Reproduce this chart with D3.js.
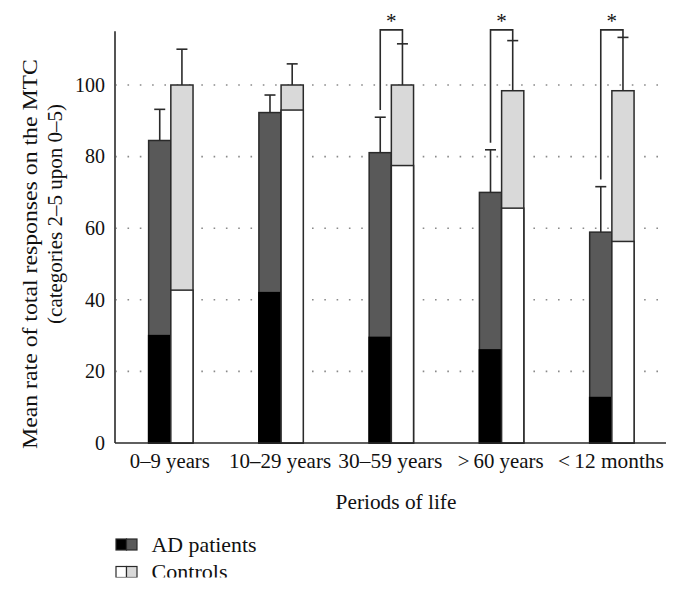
<!DOCTYPE html>
<html><head><meta charset="utf-8">
<script src="https://cdn.jsdelivr.net/npm/d3@7"></script>
<style>html,body{margin:0;padding:0;background:#fff;}svg{display:block;}</style>
</head><body>
<script>
const categories = ["0\u20139 years", "10\u201329 years", "30\u201359 years", ">\u200960 years", "<\u200912 months"];
const adLow = [30, 42, 29.5, 26, 12.7];
const adTotal = [84.5, 92.3, 81.1, 70, 58.9];
const adSD = [8.7, 4.9, 9.9, 11.9, 12.7];
const ctrlLow = [42.7, 93, 77.5, 65.6, 56.3];
const ctrlTotal = [100, 100, 100, 98.4, 98.4];
const ctrlSD = [10, 5.9, 11.5, 14, 14.9];
const significant = [false, false, true, true, true];
const yTicks = [0, 20, 40, 60, 80, 100];
const seriesNames = ["AD patients", "Controls"];

const W = 680, H = 592;
const svg = d3.select("body").append("svg").attr("width", W).attr("height", H);
const font = "'Liberation Serif', 'Times New Roman', serif";
const ink = "#2a2a2a";
const dark = "#595959", light = "#d9d9d9";

// place text at (px,py) with rotation, stretched horizontally to a target width
function fitText(parent, str, px, py, rot, target, anchor) {
  const g = parent.append("g").attr("transform", `translate(${px},${py}) rotate(${rot})`);
  const t = g.append("text").attr("font-family", font).attr("font-size", 20).attr("fill", "#111")
    .attr("text-anchor", anchor || "middle").text(str);
  const w = t.node().getComputedTextLength();
  t.attr("transform", `scale(${target / w},1)`);
  return t;
}

const y = d3.scaleLinear().domain([0, 115]).range([443, 31.3]);
const x = d3.scaleBand().domain(categories).range([115.7, 667]).paddingInner(0).paddingOuter(0);
const sub = d3.scaleBand().domain(seriesNames).range([x.bandwidth()/2 - 22.2, x.bandwidth()/2 + 22.2]);

// gridlines
svg.append("g").selectAll("line").data(yTicks.filter(d => d > 0)).join("line")
  .attr("x1", 116).attr("x2", 666).attr("y1", d => y(d)).attr("y2", d => y(d))
  .attr("stroke", "#8a8a8a").attr("stroke-width", 1.6).attr("stroke-dasharray", "1.6,10.7")
  .attr("stroke-dashoffset", -11.5);

// y tick labels
svg.append("g").selectAll("text").data(yTicks).join("text")
  .attr("x", 105).attr("y", d => y(d)).attr("dy", "0.34em")
  .attr("text-anchor", "end").attr("font-family", font).attr("font-size", 20).attr("fill", "#111")
  .text(d => d);

const groups = svg.append("g").selectAll("g").data(categories).join("g")
  .attr("transform", d => `translate(${x(d)},0)`);

// AD bars
groups.append("rect")
  .attr("x", sub("AD patients")).attr("width", sub.bandwidth())
  .attr("y", (d,i) => y(adTotal[i])).attr("height", (d,i) => y(0) - y(adTotal[i]))
  .attr("fill", dark).attr("stroke", ink).attr("stroke-width", 1.5);
groups.append("rect")
  .attr("x", sub("AD patients")).attr("width", sub.bandwidth())
  .attr("y", (d,i) => y(adLow[i])).attr("height", (d,i) => y(0) - y(adLow[i]))
  .attr("fill", "#000").attr("stroke", "#000").attr("stroke-width", 1.5);
// Control bars
groups.append("rect")
  .attr("x", sub("Controls")).attr("width", sub.bandwidth())
  .attr("y", (d,i) => y(ctrlTotal[i])).attr("height", (d,i) => y(0) - y(ctrlTotal[i]))
  .attr("fill", light).attr("stroke", ink).attr("stroke-width", 1.5);
groups.append("rect")
  .attr("x", sub("Controls")).attr("width", sub.bandwidth())
  .attr("y", (d,i) => y(ctrlLow[i])).attr("height", (d,i) => y(0) - y(ctrlLow[i]))
  .attr("fill", "#fff").attr("stroke", ink).attr("stroke-width", 1.5);

// error bars
function errBar(tot, sd, name) {
  const cx = sub(name) + sub.bandwidth()/2;
  groups.append("line").attr("x1", cx).attr("x2", cx)
    .attr("y1", (d,i) => y(tot[i])).attr("y2", (d,i) => y(tot[i] + sd[i]))
    .attr("stroke", ink).attr("stroke-width", 1.6);
  groups.append("line").attr("x1", cx - 5.5).attr("x2", cx + 5.5)
    .attr("y1", (d,i) => y(tot[i] + sd[i])).attr("y2", (d,i) => y(tot[i] + sd[i]))
    .attr("stroke", ink).attr("stroke-width", 1.6);
}
errBar(adTotal, adSD, "AD patients");
errBar(ctrlTotal, ctrlSD, "Controls");

// significance brackets
const bracketVal = 115.4;
const sig = groups.filter((d,i) => significant[i]);
sig.append("path")
  .attr("d", (d) => {
    const i = categories.indexOf(d);
    const xa = sub("AD patients") + sub.bandwidth()/2, xc = sub("Controls") + sub.bandwidth()/2;
    return `M${xa},${y(adTotal[i] + adSD[i] + 2)}V${y(bracketVal)}H${xc}V${y(ctrlTotal[i] + ctrlSD[i])}`;
  })
  .attr("fill", "none").attr("stroke", ink).attr("stroke-width", 1.6);
sig.append("text")
  .attr("x", x.bandwidth()/2).attr("y", y(bracketVal) - 1.5)
  .attr("text-anchor", "middle").attr("font-family", font).attr("font-size", 21).attr("fill", "#111")
  .text("*");

// axes lines
svg.append("line").attr("x1", 115).attr("x2", 115).attr("y1", y(115)).attr("y2", y(0))
  .attr("stroke", ink).attr("stroke-width", 1.6);
svg.append("line").attr("x1", 115).attr("x2", 666).attr("y1", y(0)).attr("y2", y(0))
  .attr("stroke", ink).attr("stroke-width", 1.6);

// x labels
const xLabelWidths = [80, 102, 104, 86, 106];
categories.forEach((c, i) => fitText(svg, c, x(c) + x.bandwidth()/2 - 1, 468, 0, xLabelWidths[i]));

fitText(svg, "Periods of life", 396, 509, 0, 121);

// y title
fitText(svg, "Mean rate of total responses on the MTC", 37, 254, -90, 390);
fitText(svg, "(categories 2\u20135 upon 0\u20135)", 62, 214, -90, 220);

// legend
const legendFills = [["#000", dark], ["#fff", light]];
const legendWidths = [105, 76];
const lg = svg.append("g").selectAll("g").data(seriesNames).join("g")
  .attr("transform", (d,i) => `translate(116,${539 + i*27.5})`);
lg.append("rect").attr("x", 0).attr("y", 0).attr("width", 10.5).attr("height", 11)
  .attr("fill", (d,i) => legendFills[i][0]).attr("stroke", ink).attr("stroke-width", 1.2);
lg.append("rect").attr("x", 10.5).attr("y", 0).attr("width", 10.5).attr("height", 11)
  .attr("fill", (d,i) => legendFills[i][1]).attr("stroke", ink).attr("stroke-width", 1.2);
lg.each(function(d, i) { fitText(d3.select(this), d, 35.5, 12.5, 0, legendWidths[i], "start"); });

// bottom crop as in reference
svg.append("rect").attr("x", 0).attr("y", 577.5).attr("width", W).attr("height", H - 577.5).attr("fill", "#fff");
</script>
</body></html>
